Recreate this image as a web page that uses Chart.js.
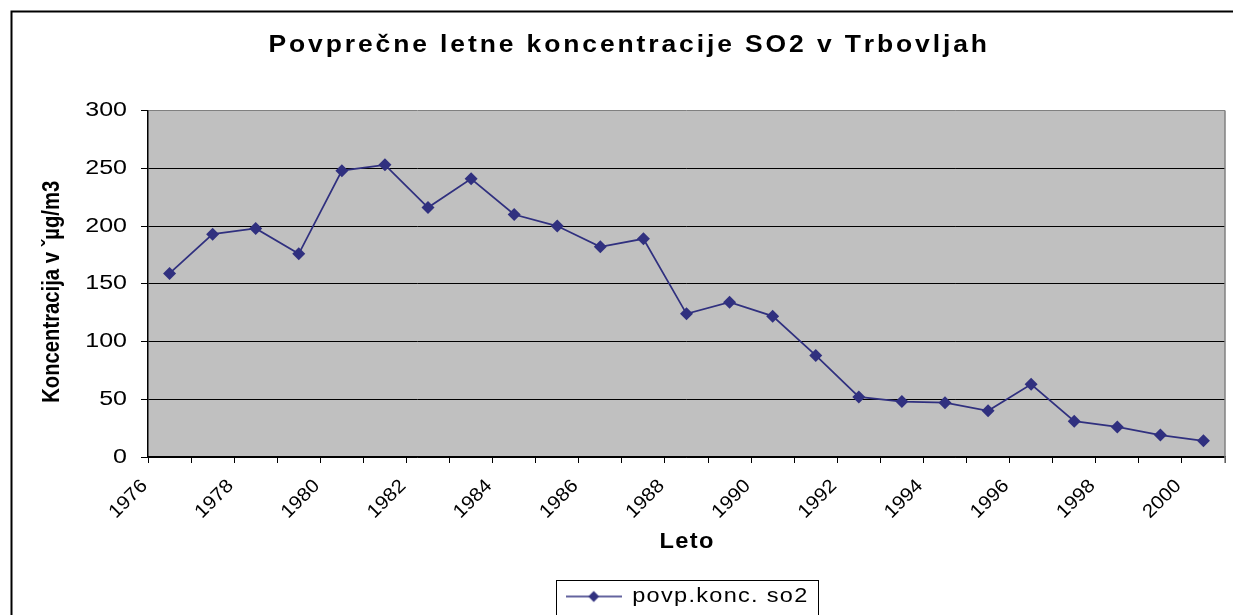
<!DOCTYPE html>
<html>
<head>
<meta charset="utf-8">
<title>Povprečne letne koncentracije SO2 v Trbovljah</title>
<script src="https://cdn.jsdelivr.net/npm/chart.js@4/dist/chart.umd.min.js"></script>
<style>
  html, body { margin: 0; padding: 0; background: #fff; }
  canvas { display: block; }
</style>
</head>
<body>
<canvas id="chart" width="1233" height="615"></canvas>
<script>
  const years = ["1976", "1977", "1978", "1979", "1980", "1981", "1982", "1983", "1984", "1985",
    "1986", "1987", "1988", "1989", "1990", "1991", "1992", "1993", "1994", "1995",
    "1996", "1997", "1998", "1999", "2000"];
  const so2 = [159, 193, 198, 176, 248, 253, 216, 241, 210, 200,
    182, 189, 124, 134, 122, 88, 52, 48, 47, 40,
    63, 31, 26, 19, 14];
  const yTicks = { min: 0, max: 300, step: 50 };

  const lineColor = "#30307f";
  const family = "'Liberation Sans', Arial, sans-serif";

  // the old Excel picture draws its text wider (or, for the y title, narrower) than Arial:
  // per font size a horizontal stretch sx, a glyph height stretch sy and extra px between letters
  const textLook = {
    23: { sx: 1.15, sy: 1, sp: 2.9 },              // title
    20: { sx: 1.25, sy: 1, sp: 0 },                // y tick labels
    19: { sx: 1.08, sy: 1, sp: 0 },                // x tick labels
    21.5: { sx: 1.1, sy: 1, sp: 1.3 },             // x title
    22: { sx: 0.92, sy: 1.12, sp: 0, dx: -8 },     // y title
    21: { sx: 1.12, sy: 1, sp: 1.3 }               // legend
  };
  const canvas = document.getElementById("chart");
  const ctx = canvas.getContext("2d");
  const proto = CanvasRenderingContext2D.prototype;

  function lookOf(c) {
    const m = /(\d+(?:\.\d+)?)px/.exec(c.font);
    return m ? textLook[parseFloat(m[1])] : null;
  }

  function textWidth(c, s, look) {
    return proto.measureText.call(c, s).width * look.sx + look.sp * Math.max(Array.from(s).length - 1, 0);
  }

  ctx.measureText = function (text) {
    const look = lookOf(this);
    const s = String(text);
    const m = proto.measureText.call(this, s);
    if (!look) return m;
    return {
      width: textWidth(this, s, look),
      actualBoundingBoxAscent: m.actualBoundingBoxAscent * look.sy,
      actualBoundingBoxDescent: m.actualBoundingBoxDescent * look.sy,
      actualBoundingBoxLeft: m.actualBoundingBoxLeft * look.sx,
      actualBoundingBoxRight: textWidth(this, s, look)
    };
  };

  ctx.fillText = function (text, x, y) {
    const look = lookOf(this);
    const s = String(text);
    if (!look) return proto.fillText.call(this, s, x, y);
    const total = textWidth(this, s, look);
    const align = this.textAlign;
    let cx = look.dx || 0;
    if (align === "center") cx -= total / 2;
    else if (align === "right" || align === "end") cx -= total;
    this.save();
    this.translate(x, y);
    this.scale(look.sx, look.sy);
    this.textAlign = "left";
    if (!look.sp) {
      proto.fillText.call(this, s, cx / look.sx, 0);
    } else {
      Array.from(s).forEach((ch) => {
        proto.fillText.call(this, ch, cx / look.sx, 0);
        cx += proto.measureText.call(this, ch).width * look.sx + look.sp;
      });
    }
    this.restore();
  };

  // marker used in the legend: short line with a diamond in the middle
  const legendMarker = document.createElement("canvas");
  legendMarker.width = 56;
  legendMarker.height = 14;
  (function () {
    const m = legendMarker.getContext("2d");
    m.strokeStyle = lineColor;
    m.lineWidth = 1.5;
    m.beginPath();
    m.moveTo(0, 7);
    m.lineTo(56, 7);
    m.stroke();
    m.fillStyle = lineColor;
    m.beginPath();
    m.moveTo(28, 1.5);
    m.lineTo(33.5, 7);
    m.lineTo(28, 12.5);
    m.lineTo(22.5, 7);
    m.closePath();
    m.fill();
  })();

  const frame = {
    id: "frame",
    beforeDraw(chart) {
      const c = chart.ctx;
      const a = chart.chartArea;
      c.save();
      c.fillStyle = "#fff";
      c.fillRect(0, 0, chart.width, chart.height);
      c.strokeStyle = "#000";
      c.lineWidth = 2;
      c.strokeRect(11.5, 11.5, chart.width + 20, chart.height + 20);
      c.fillStyle = "#c0c0c0";
      c.fillRect(a.left, a.top, a.right - a.left, a.bottom - a.top);
      c.restore();
    },
    afterDraw(chart) {
      const c = chart.ctx;
      const a = chart.chartArea;
      c.save();
      c.strokeStyle = "#808080";
      c.lineWidth = 1.5;
      c.beginPath();
      c.moveTo(a.right, a.top);
      c.lineTo(a.right, a.bottom + 6);
      c.stroke();
      const box = chart.legend.legendHitBoxes[0];
      if (box) {
        c.strokeStyle = "#000";
        c.lineWidth = 1;
        c.strokeRect(Math.round(box.left - 10) + 0.5, Math.round(box.top - 6) + 0.5, Math.round(box.width + 20), 60);
      }
      c.restore();
    }
  };

  new Chart(canvas, {
    type: "line",
    data: {
      labels: years,
      datasets: [{
        label: "povp.konc. so2",
        data: so2,
        borderColor: lineColor,
        backgroundColor: lineColor,
        borderWidth: 1.75,
        pointStyle: "rectRot",
        pointRadius: 6.5,
        pointBorderWidth: 0,
        tension: 0
      }]
    },
    options: {
      responsive: false,
      animation: false,
      events: [],
      layout: { padding: { left: 29, right: 8, top: 0, bottom: -2 } },
      plugins: {
        title: {
          display: true,
          text: "Povprečne letne koncentracije SO2 v Trbovljah",
          color: "#000",
          font: { family, size: 23, weight: "bold" },
          padding: { top: 32, bottom: 51 }
        },
        legend: {
          position: "bottom",
          fullSize: false,
          labels: {
            color: "#000",
            font: { family, size: 21, weight: "normal" },
            usePointStyle: true,
            pointStyleWidth: 56,
            padding: 10,
            generateLabels(chart) {
              const items = Chart.defaults.plugins.legend.labels.generateLabels(chart);
              items.forEach((item) => { item.pointStyle = legendMarker; });
              return items;
            }
          }
        },
        tooltip: { enabled: false }
      },
      scales: {
        x: {
          type: "category",
          offset: true,
          afterFit(scale) {
            scale.height = 119;
            // the rotated labels hang to the left, keep the plot reaching the right edge
            scale.paddingRight = 0;
          },
          grid: {
            offset: true,
            drawOnChartArea: false,
            drawTicks: true,
            tickLength: 6,
            color: "#000"
          },
          border: { display: true, color: "#000", width: 1.5 },
          ticks: {
            autoSkip: false,
            minRotation: 45,
            maxRotation: 45,
            labelOffset: -25,
            padding: 12,
            color: "#000",
            font: { family, size: 19, weight: "normal" },
            callback: (value, i) => (i % 2 ? "" : years[i])
          },
          title: {
            display: true,
            text: "Leto",
            color: "#000",
            font: { family, size: 21.5, weight: "bold" },
            padding: { top: 0, bottom: 21 }
          }
        },
        y: {
          min: yTicks.min,
          max: yTicks.max,
          afterFit(scale) { scale.width = 119; },
          grid: {
            color: (c) => (c.tick && c.tick.value === yTicks.max ? "#808080" : "#000"),
            tickColor: "#000",
            tickLength: 7,
            lineWidth: 1
          },
          border: { display: true, color: "#000", width: 1.5 },
          ticks: {
            stepSize: yTicks.step,
            padding: 14,
            color: "#000",
            font: { family, size: 20, weight: "normal" }
          },
          title: {
            display: true,
            text: "Koncentracija v ˇµg/m3",
            color: "#000",
            font: { family, size: 22, weight: "bold" },
            padding: { top: 10, bottom: 0 }
          }
        }
      }
    },
    plugins: [frame]
  });
</script>
</body>
</html>
